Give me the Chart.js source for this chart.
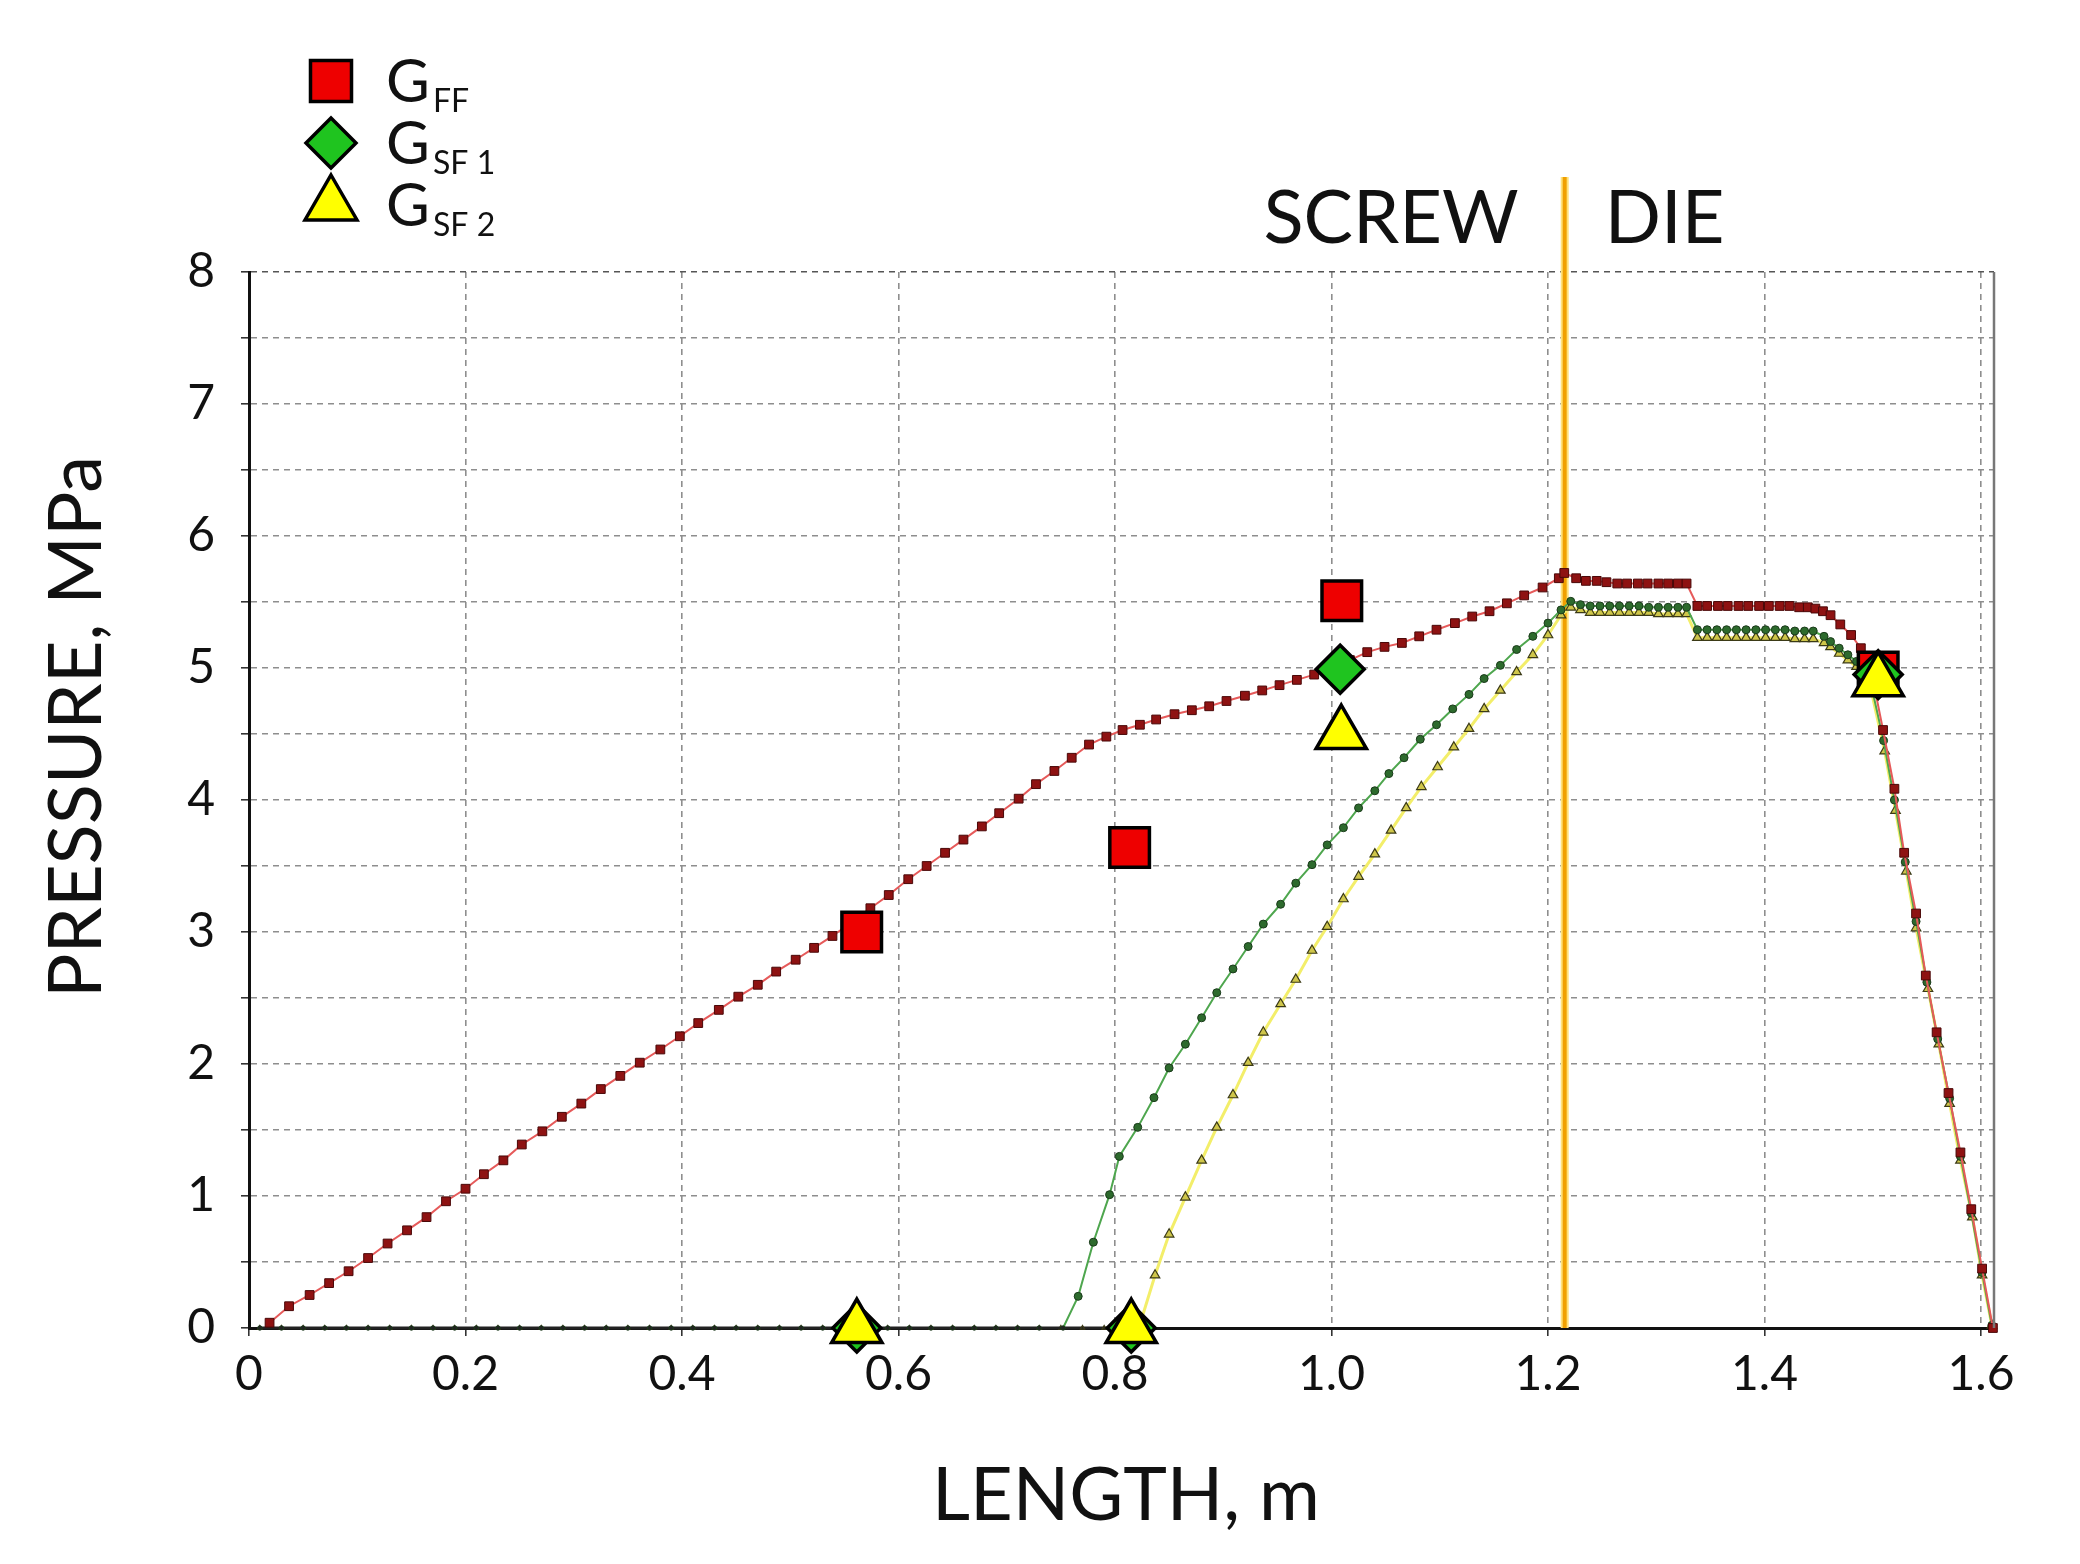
<!DOCTYPE html>
<html>
<head>
<meta charset="utf-8">
<script src="https://cdn.jsdelivr.net/npm/chart.js@4.4.1/dist/chart.umd.min.js"></script>
<style>
  html, body { margin: 0; padding: 0; background: #fff; }
  #wrap { width: 2080px; height: 1564px; }
</style>
</head>
<body>
<div id="wrap"><canvas id="pressureChart" width="2080" height="1564"></canvas></div>
<script>
// axis ticks
const xTicks = [0, 0.2, 0.4, 0.6, 0.8, 1.0, 1.2, 1.4, 1.6];
const yTicks = [0, 0.5, 1, 1.5, 2, 2.5, 3, 3.5, 4, 4.5, 5, 5.5, 6, 6.5, 7, 7.5, 8];
const xMax = 1.612;
const screwDieX = 1.2154;

// measured points
const gffExp = [[0.566, 3.0], [0.8135, 3.64], [1.0095, 5.51], [1.505, 4.97]];
const gsf1Exp = [[0.5615, 0], [0.815, 0], [1.008, 4.99], [1.505, 4.95]];
const gsf2Exp = [[0.5615, 0], [0.815, 0], [1.009, 4.5], [1.505, 4.9]];

// simulated GFF
const gffSim = [
  [0.019, 0.04], [0.037, 0.165], [0.056, 0.25], [0.074, 0.34], [0.092, 0.43],
  [0.110, 0.53], [0.128, 0.64], [0.146, 0.74], [0.164, 0.84], [0.182, 0.96],
  [0.200, 1.055], [0.217, 1.165], [0.235, 1.27], [0.252, 1.39], [0.271, 1.49],
  [0.289, 1.60], [0.307, 1.70], [0.325, 1.81], [0.343, 1.91], [0.361, 2.01],
  [0.380, 2.11], [0.398, 2.21], [0.415, 2.31], [0.434, 2.41], [0.452, 2.51],
  [0.470, 2.60], [0.487, 2.70], [0.505, 2.79], [0.522, 2.88], [0.539, 2.97],
  [0.556, 3.07], [0.574, 3.18], [0.591, 3.28], [0.609, 3.40], [0.626, 3.50],
  [0.643, 3.60], [0.660, 3.70], [0.677, 3.80], [0.693, 3.90], [0.711, 4.01],
  [0.727, 4.12], [0.744, 4.22], [0.760, 4.32], [0.776, 4.42], [0.792, 4.48],
  [0.807, 4.53], [0.823, 4.57], [0.838, 4.61], [0.855, 4.65], [0.871, 4.68],
  [0.887, 4.71], [0.903, 4.75], [0.920, 4.79], [0.936, 4.83], [0.952, 4.87],
  [0.968, 4.91], [0.984, 4.95], [1.000, 4.99], [1.017, 5.06], [1.033, 5.12],
  [1.049, 5.16], [1.065, 5.19], [1.081, 5.24], [1.097, 5.29], [1.114, 5.34],
  [1.130, 5.39], [1.146, 5.43], [1.162, 5.49], [1.178, 5.55], [1.195, 5.61],
  [1.210, 5.68], [1.215, 5.72],
  [1.226, 5.68], [1.235, 5.66], [1.245, 5.66], [1.254, 5.65], [1.264, 5.64],
  [1.273, 5.64], [1.283, 5.64], [1.292, 5.64], [1.302, 5.64], [1.311, 5.64],
  [1.320, 5.64], [1.328, 5.64], [1.338, 5.47], [1.347, 5.47], [1.357, 5.47],
  [1.366, 5.47], [1.376, 5.47], [1.385, 5.47], [1.395, 5.47], [1.404, 5.47],
  [1.414, 5.47], [1.423, 5.47], [1.432, 5.46], [1.440, 5.46], [1.447, 5.45],
  [1.454, 5.43], [1.461, 5.40], [1.470, 5.33], [1.480, 5.25], [1.489, 5.15],
  [1.497, 5.04], [1.5095, 4.53], [1.520, 4.085], [1.529, 3.60], [1.540, 3.14],
  [1.549, 2.67], [1.559, 2.24], [1.570, 1.78], [1.581, 1.33], [1.591, 0.90],
  [1.601, 0.45], [1.611, 0.0]
];

// simulated GSF 1
const gsf1Sim = [
  [0.01, 0], [0.03, 0], [0.05, 0], [0.07, 0], [0.09, 0], [0.11, 0], [0.13, 0],
  [0.15, 0], [0.17, 0], [0.19, 0], [0.21, 0], [0.23, 0], [0.25, 0], [0.27, 0],
  [0.29, 0], [0.31, 0], [0.33, 0], [0.35, 0], [0.37, 0], [0.39, 0], [0.41, 0],
  [0.43, 0], [0.45, 0], [0.47, 0], [0.49, 0], [0.51, 0], [0.53, 0], [0.55, 0],
  [0.57, 0], [0.59, 0], [0.61, 0], [0.63, 0], [0.65, 0], [0.67, 0], [0.69, 0],
  [0.71, 0], [0.73, 0],
  [0.752, 0], [0.766, 0.24], [0.780, 0.65], [0.795, 1.01], [0.804, 1.30],
  [0.821, 1.52], [0.836, 1.745], [0.850, 1.97], [0.865, 2.15], [0.880, 2.35],
  [0.894, 2.54], [0.909, 2.72], [0.923, 2.89], [0.937, 3.06], [0.953, 3.21],
  [0.967, 3.37], [0.982, 3.51], [0.996, 3.66], [1.011, 3.79], [1.025, 3.94],
  [1.040, 4.07], [1.053, 4.20], [1.067, 4.32], [1.082, 4.46], [1.097, 4.57],
  [1.112, 4.69], [1.127, 4.80], [1.141, 4.92], [1.156, 5.02], [1.171, 5.14],
  [1.186, 5.24], [1.200, 5.34], [1.212, 5.44], [1.221, 5.505],
  [1.230, 5.48], [1.239, 5.47], [1.248, 5.47], [1.257, 5.47], [1.266, 5.47],
  [1.275, 5.47], [1.284, 5.47], [1.293, 5.46], [1.302, 5.46], [1.311, 5.46],
  [1.320, 5.46], [1.328, 5.46], [1.338, 5.29], [1.347, 5.29], [1.356, 5.29],
  [1.365, 5.29], [1.374, 5.29], [1.383, 5.29], [1.392, 5.29], [1.401, 5.29],
  [1.410, 5.29], [1.419, 5.29], [1.428, 5.28], [1.437, 5.28], [1.445, 5.28],
  [1.455, 5.24], [1.461, 5.20], [1.469, 5.15], [1.477, 5.10], [1.485, 5.05],
  [1.495, 5.00], [1.510, 4.45], [1.520, 4.00], [1.530, 3.53], [1.540, 3.08],
  [1.550, 2.62], [1.560, 2.19], [1.571, 1.74], [1.581, 1.30], [1.591, 0.87],
  [1.601, 0.42], [1.610, 0.02]
];

// simulated GSF 2
const gsf2Sim = [
  [0.01, 0], [0.03, 0], [0.05, 0], [0.07, 0], [0.09, 0], [0.11, 0], [0.13, 0],
  [0.15, 0], [0.17, 0], [0.19, 0], [0.21, 0], [0.23, 0], [0.25, 0], [0.27, 0],
  [0.29, 0], [0.31, 0], [0.33, 0], [0.35, 0], [0.37, 0], [0.39, 0], [0.41, 0],
  [0.43, 0], [0.45, 0], [0.47, 0], [0.49, 0], [0.51, 0], [0.53, 0], [0.55, 0],
  [0.57, 0], [0.59, 0], [0.61, 0], [0.63, 0], [0.65, 0], [0.67, 0], [0.69, 0],
  [0.71, 0], [0.73, 0], [0.75, 0], [0.77, 0], [0.79, 0], [0.81, 0],
  [0.822, 0], [0.837, 0.40], [0.850, 0.71], [0.865, 0.99], [0.880, 1.27],
  [0.894, 1.52], [0.909, 1.765], [0.923, 2.01], [0.937, 2.24], [0.953, 2.455],
  [0.967, 2.64], [0.982, 2.86], [0.996, 3.04], [1.011, 3.25], [1.025, 3.42],
  [1.040, 3.59], [1.055, 3.77], [1.069, 3.94], [1.083, 4.10], [1.098, 4.25],
  [1.113, 4.40], [1.127, 4.54], [1.141, 4.69], [1.156, 4.83], [1.171, 4.97],
  [1.186, 5.10], [1.200, 5.25], [1.212, 5.40], [1.221, 5.46],
  [1.230, 5.44], [1.239, 5.42], [1.248, 5.42], [1.257, 5.42], [1.266, 5.42],
  [1.275, 5.42], [1.284, 5.42], [1.293, 5.42], [1.302, 5.41], [1.311, 5.41],
  [1.320, 5.41], [1.328, 5.41], [1.338, 5.23], [1.347, 5.23], [1.356, 5.23],
  [1.365, 5.23], [1.374, 5.23], [1.383, 5.23], [1.392, 5.23], [1.401, 5.23],
  [1.410, 5.23], [1.419, 5.23], [1.428, 5.22], [1.437, 5.22], [1.445, 5.22],
  [1.455, 5.19], [1.461, 5.16], [1.469, 5.11], [1.477, 5.06], [1.485, 5.01],
  [1.495, 4.96], [1.511, 4.37], [1.521, 3.92], [1.531, 3.46], [1.540, 3.03],
  [1.551, 2.57], [1.561, 2.15], [1.571, 1.70], [1.581, 1.27], [1.592, 0.84],
  [1.601, 0.40], [1.610, 0.02]
];

const FONT = "Lato, 'Open Sans', sans-serif";
const INK = "#111111";
const toPts = (arr) => arr.map(([x, y]) => ({ x: x, y: y }));

// points lying on the axis look like dark dots on the black axis line
const onAxis = (c) => c.raw && c.raw.y === 0;
const axisSegment = (c) => (c.p0.parsed.y === 0 && c.p1.parsed.y === 0 ? "#222" : undefined);

function markerPath(ctx, style, cx, cy, r) {
  ctx.beginPath();
  if (style === "rect") {
    const s = r * Math.SQRT1_2;
    ctx.rect(cx - s, cy - s, 2 * s, 2 * s);
  } else if (style === "rectRot") {
    ctx.moveTo(cx, cy - r);
    ctx.lineTo(cx + r, cy);
    ctx.lineTo(cx, cy + r);
    ctx.lineTo(cx - r, cy);
    ctx.closePath();
  } else {
    ctx.moveTo(cx, cy - r);
    ctx.lineTo(cx + r * 0.866, cy + r * 0.5);
    ctx.lineTo(cx - r * 0.866, cy + r * 0.5);
    ctx.closePath();
  }
}

// legend entries: marker style, fill, subscript
const legendRows = [
  { style: "rect", r: 29, fill: "#ee0000", sub: "FF" },
  { style: "rectRot", r: 25, fill: "#1fc41f", sub: "SF 1" },
  { style: "triangle", r: 30, fill: "#ffff00", sub: "SF 2" }
];

const decor = {
  id: "decor",
  beforeDatasetsDraw(chart) {
    const { ctx, chartArea, scales } = chart;
    const px = scales.x.getPixelForValue(screwDieX);
    ctx.save();
    ctx.strokeStyle = "#ffe27a";
    ctx.lineWidth = 8;
    ctx.beginPath();
    ctx.moveTo(px, 177);
    ctx.lineTo(px, chartArea.bottom);
    ctx.stroke();
    ctx.strokeStyle = "#f0a000";
    ctx.lineWidth = 4;
    ctx.stroke();
    ctx.restore();
  },
  afterDraw(chart) {
    const { ctx, chartArea, scales } = chart;
    ctx.save();
    // right frame
    ctx.strokeStyle = "#777";
    ctx.lineWidth = 2.5;
    ctx.beginPath();
    ctx.moveTo(chartArea.right, chartArea.top);
    ctx.lineTo(chartArea.right, chartArea.bottom);
    ctx.stroke();

    ctx.fillStyle = INK;
    ctx.textBaseline = "alphabetic";
    // SCREW | DIE
    const px = scales.x.getPixelForValue(screwDieX);
    ctx.font = "74px " + FONT;
    ctx.textAlign = "right";
    ctx.fillText("SCREW", px - 46, 243);
    ctx.textAlign = "left";
    ctx.fillText("DIE", px + 40, 243);

    // axis titles
    ctx.textAlign = "center";
    ctx.fillText("LENGTH, m", 1126, 1520);
    ctx.save();
    ctx.translate(101, 727);
    ctx.rotate(-Math.PI / 2);
    ctx.fillText("PRESSURE, MPa", 0, 0);
    ctx.restore();

    // legend
    legendRows.forEach((row, i) => {
      const cy = 81 + i * 62;
      markerPath(ctx, row.style, 331, cy, row.r);
      ctx.fillStyle = row.fill;
      ctx.fill();
      ctx.lineWidth = 3.5;
      ctx.strokeStyle = "#000";
      ctx.stroke();
      ctx.fillStyle = INK;
      ctx.textAlign = "left";
      ctx.font = "60px " + FONT;
      ctx.fillText("G", 386, cy + 21);
      ctx.font = "32px " + FONT;
      ctx.fillText(row.sub, 433, cy + 31);
    });
    ctx.restore();
  }
};

function buildChart() {
  const el = document.getElementById("pressureChart");
  new Chart(el, {
    type: "scatter",
    data: {
      datasets: [
        {
          label: "GSF2 measured", data: toPts(gsf2Exp),
          pointStyle: "triangle", pointRadius: 29, pointBorderWidth: 3.5,
          backgroundColor: "#ffff00", borderColor: "#000", clip: false
        },
        {
          label: "GSF1 measured", data: toPts(gsf1Exp),
          pointStyle: "rectRot", pointRadius: 24, pointBorderWidth: 3.5,
          backgroundColor: "#1fc41f", borderColor: "#000", clip: false
        },
        {
          label: "GFF measured", data: toPts(gffExp),
          pointStyle: "rect", pointRadius: 28, pointBorderWidth: 3.5,
          backgroundColor: "#ee0000", borderColor: "#000", clip: false
        },
        {
          label: "GFF", data: toPts(gffSim), showLine: true,
          borderColor: "#e65a5a", borderWidth: 2,
          pointStyle: "rect", pointRadius: 6.2, pointBorderWidth: 1,
          pointBackgroundColor: "#8e1212", pointBorderColor: "#4a0808", clip: false
        },
        {
          label: "GSF 1", data: toPts(gsf1Sim), showLine: true,
          borderColor: "#4ea64e", borderWidth: 2,
          segment: { borderColor: axisSegment },
          pointStyle: "circle",
          pointRadius: (c) => (onAxis(c) ? 2.2 : 4), pointBorderWidth: 1,
          pointBackgroundColor: (c) => (onAxis(c) ? "#222" : "#2d6a2d"),
          pointBorderColor: "#1a3a1a", clip: false
        },
        {
          label: "GSF 2", data: toPts(gsf2Sim), showLine: true,
          borderColor: "#f3ee6a", borderWidth: 3,
          segment: { borderColor: axisSegment },
          pointStyle: "triangle",
          pointRadius: (c) => (onAxis(c) ? 2.5 : 5.5), pointBorderWidth: 1.2,
          pointBackgroundColor: (c) => (onAxis(c) ? "#222" : "#cfc64a"),
          pointBorderColor: "#3b3a16", clip: false
        }
      ]
    },
    options: {
      responsive: false,
      devicePixelRatio: 1,
      animation: false,
      events: [],
      layout: { padding: { left: 0, top: 272, right: 86, bottom: 0 } },
      plugins: { legend: { display: false }, tooltip: { enabled: false } },
      scales: {
        x: {
          type: "linear", min: 0, max: xMax,
          afterBuildTicks: (axis) => { axis.ticks = xTicks.map((v) => ({ value: v })); },
          afterFit: (axis) => { axis.height = 236; },
          grid: { color: "#8e8e8e", lineWidth: 1.6, tickLength: 8, tickColor: "#333" },
          border: { display: true, color: "#111", width: 3, dash: [6, 5] },
          ticks: {
            color: INK, padding: 10, maxRotation: 0,
            font: { family: FONT, size: 48 },
            callback: (v) => (v === 0 ? "0" : v.toFixed(1))
          }
        },
        y: {
          type: "linear", min: 0, max: 8,
          afterBuildTicks: (axis) => { axis.ticks = yTicks.map((v) => ({ value: v })); },
          afterFit: (axis) => { axis.width = 249; },
          grid: {
            color: (c) => (c.tick && c.tick.value === 8 ? "#555" : "#8e8e8e"),
            lineWidth: 1.6, tickLength: 8, tickColor: "#333"
          },
          border: { display: true, color: "#111", width: 3, dash: [6, 5] },
          ticks: {
            color: INK, padding: 26,
            font: { family: FONT, size: 48 },
            callback: (v) => (Number.isInteger(v) ? String(v) : "")
          }
        }
      }
    },
    plugins: [decor]
  });
}

if (document.fonts && document.fonts.load) {
  Promise.all([document.fonts.load("48px Lato"), document.fonts.load("74px Lato")])
    .then(buildChart, buildChart);
} else {
  buildChart();
}
</script>
</body>
</html>
